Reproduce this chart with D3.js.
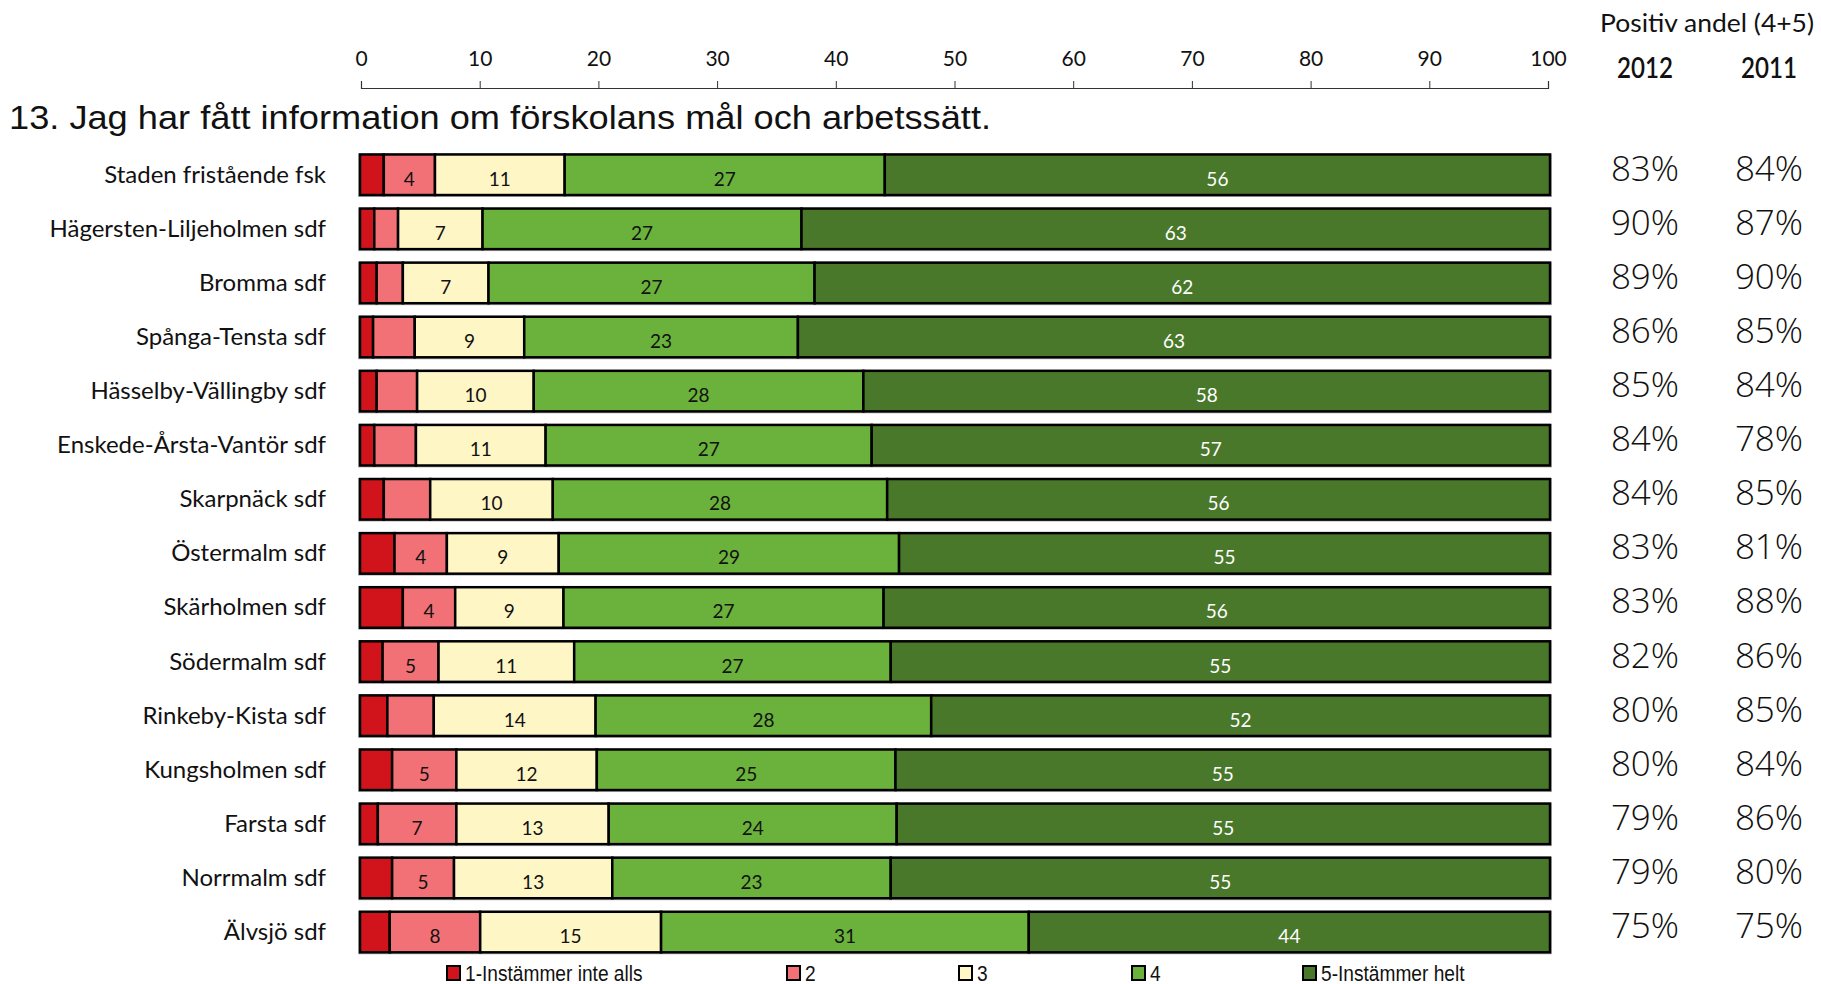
<!DOCTYPE html>
<html>
<head>
<meta charset="utf-8">
<script src="https://cdn.jsdelivr.net/npm/d3@7/dist/d3.min.js"></script>
<style>
  html, body { margin: 0; padding: 0; background: #fff; }
  svg { display: block; }
</style>
</head>
<body>
<svg id="chart" width="1821" height="984"></svg>
<script>
// ---- DATA ----
const categories = [
  "Staden fristående fsk", "Hägersten-Liljeholmen sdf", "Bromma sdf", "Spånga-Tensta sdf",
  "Hässelby-Vällingby sdf", "Enskede-Årsta-Vantör sdf", "Skarpnäck sdf", "Östermalm sdf",
  "Skärholmen sdf", "Södermalm sdf", "Rinkeby-Kista sdf", "Kungsholmen sdf",
  "Farsta sdf", "Norrmalm sdf", "Älvsjö sdf"
];
const seriesNames = ["1-Instämmer inte alls", "2", "3", "4", "5-Instämmer helt"];
const s1 = [2.0, 1.2, 1.4, 1.1, 1.4, 1.2, 2.0, 2.9, 3.6, 1.9, 2.3, 2.7, 1.5, 2.7, 2.5];
const s2 = [4.3, 2.0, 2.2, 3.5, 3.4, 3.5, 3.9, 4.4, 4.4, 4.7, 3.9, 5.4, 6.6, 5.2, 7.6];
const s3 = [10.9, 7.1, 7.2, 9.2, 9.8, 10.9, 10.3, 9.4, 9.1, 11.4, 13.6, 11.8, 12.8, 13.3, 15.2];
const s4 = [26.9, 26.8, 27.4, 23.0, 27.7, 27.4, 28.1, 28.6, 26.9, 26.6, 28.2, 25.1, 24.2, 23.4, 30.9];
const s5 = [55.9, 62.9, 61.8, 63.2, 57.7, 57.0, 55.7, 54.7, 56.0, 55.4, 52.0, 55.0, 54.9, 55.4, 43.8];
const pos2012 = [83, 90, 89, 86, 85, 84, 84, 83, 83, 82, 80, 80, 79, 79, 75];
const pos2011 = [84, 87, 90, 85, 84, 78, 85, 81, 88, 86, 85, 84, 86, 80, 75];
const tickValues = [0, 10, 20, 30, 40, 50, 60, 70, 80, 90, 100];
const colHeaders = ["2012", "2011"];
const headerText = "Positiv andel (4+5)";
const titleText = "13. Jag har fått information om förskolans mål och arbetssätt.";

const colors = ["#D1141B", "#F27176", "#FFF6C6", "#6AB23B", "#4A782B"];

// ---- BUILD ----
const seriesArr = [s1, s2, s3, s4, s5];
const table = categories.map((c, i) => {
  const o = { cat: c };
  seriesNames.forEach((n, k) => o[n] = seriesArr[k][i]);
  return o;
});
const stacked = d3.stack().keys(seriesNames)(table);

const svg = d3.select("#chart");
const x = d3.scaleLinear().domain([0, 100]).range([361, 1548]);
const xb = d3.scaleLinear().domain([0, 100]).range([360, 1550]);
const y = d3.scaleBand().domain(categories).range([147.7, 959.1]).paddingInner(0.25).paddingOuter(0.125);
const color = d3.scaleOrdinal().domain(seriesNames).range(colors);

// Axis (top)
const axisG = svg.append("g").attr("transform", "translate(0,88)")
  .call(d3.axisTop(x).tickValues(tickValues).tickSize(7).tickSizeOuter(7).tickPadding(15));
axisG.select(".domain").attr("stroke", "#333").attr("stroke-width", 1.2);
axisG.selectAll(".tick line").attr("stroke", "#333").attr("stroke-width", 1);
axisG.selectAll(".tick text").attr("font-family", "Lato, 'Open Sans', sans-serif")
  .attr("font-size", 21).attr("fill", "#111");

// Title
svg.append("text").attr("x", 9).attr("y", 129)
  .attr("font-family", "'Liberation Sans', Arial, sans-serif").attr("font-size", 33)
  .attr("textLength", 982).attr("lengthAdjust", "spacingAndGlyphs")
  .attr("fill", "#111").text(titleText);

// Bar shadows (faint gray outline)
svg.append("g").selectAll("rect").data(categories).join("rect")
  .attr("x", xb(0) - 2).attr("y", d => y(d) - 1)
  .attr("width", xb(100) - xb(0) + 4).attr("height", y.bandwidth() + 3)
  .attr("fill", "#bbb");

// Bars
const layer = svg.append("g").selectAll("g").data(stacked).join("g")
  .attr("fill", d => color(d.key));
layer.selectAll("rect").data(d => d).join("rect")
  .attr("x", d => xb(d[0]))
  .attr("y", d => y(d.data.cat))
  .attr("width", d => xb(d[1]) - xb(d[0]))
  .attr("height", y.bandwidth())
  .attr("stroke", "#000").attr("stroke-width", 2.5);

// Segment labels
const lab = svg.append("g");
stacked.forEach((s, k) => {
  lab.selectAll(null).data(s.filter(d => (d[1] - d[0]) >= 4)).join("text")
    .attr("x", d => (xb(d[0]) + xb(d[1])) / 2)
    .attr("y", d => y(d.data.cat) + y.bandwidth() / 2 + 11)
    .attr("text-anchor", "middle")
    .attr("font-family", "Lato, sans-serif").attr("font-size", 19)
    .attr("fill", k === 4 ? "#fff" : "#111")
    .text(d => Math.round(d[1] - d[0]));
});

// Category labels
svg.append("g").selectAll("text").data(categories).join("text")
  .attr("x", 326).attr("y", d => y(d) + y.bandwidth() / 2 + 8)
  .attr("text-anchor", "end")
  .attr("font-family", "Lato, sans-serif").attr("font-size", 24).attr("fill", "#111")
  .text(d => d);

// Right columns
const colX = [1645, 1769];
[pos2012, pos2011].forEach((arr, j) => {
  svg.append("g").selectAll("text").data(arr).join("text")
    .attr("x", colX[j]).attr("y", (d, i) => y(categories[i]) + y.bandwidth() / 2 + 6)
    .attr("text-anchor", "middle")
    .attr("font-family", "'Open Sans', sans-serif").attr("font-weight", 300)
    .attr("font-size", 35).attr("fill", "#111")
    .text(d => d + "%");
});
svg.append("text").attr("x", 1707).attr("y", 32).attr("text-anchor", "middle")
  .attr("font-family", "Lato, sans-serif").attr("font-size", 25).attr("fill", "#111")
  .attr("textLength", 214).attr("lengthAdjust", "spacingAndGlyphs")
  .text(headerText);
colHeaders.forEach((h, j) => {
  svg.append("text").attr("x", colX[j]).attr("y", 78).attr("text-anchor", "middle")
    .attr("font-family", "Lato, sans-serif").attr("font-size", 28).attr("font-weight", 600)
    .attr("fill", "#111").attr("textLength", 56).attr("lengthAdjust", "spacingAndGlyphs")
    .text(h);
});

// Legend
const legX = [447, 787, 959, 1132, 1303];
const leg = svg.append("g").selectAll("g").data(seriesNames).join("g")
  .attr("transform", (d, i) => `translate(${legX[i]},973)`);
leg.append("rect").attr("x", 0).attr("y", -7).attr("width", 13).attr("height", 14)
  .attr("fill", d => color(d)).attr("stroke", "#000").attr("stroke-width", 2);
leg.append("text").attr("transform", "translate(18,8) scale(0.87,1)")
  .attr("font-family", "'Liberation Sans', Arial, sans-serif").attr("font-size", 22)
  .attr("fill", "#111").text(d => d);
</script>
</body>
</html>
